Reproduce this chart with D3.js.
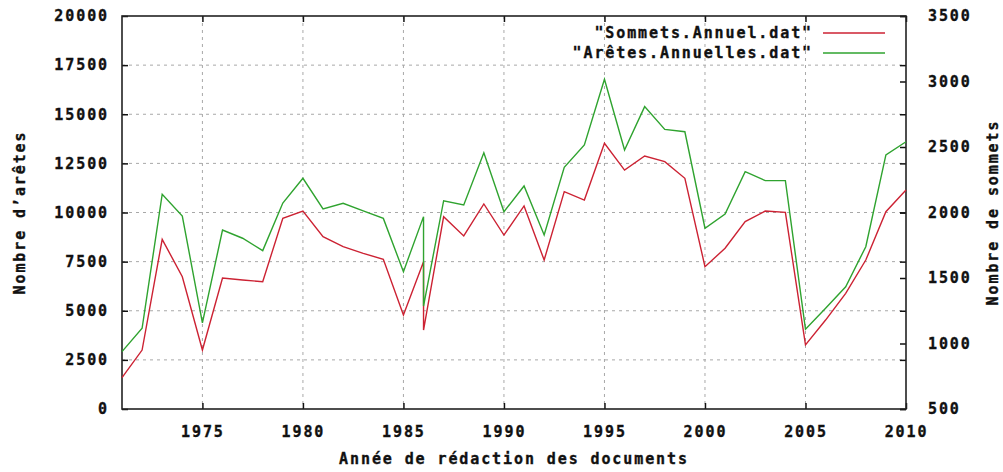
<!DOCTYPE html>
<html>
<head>
<meta charset="utf-8">
<script src="https://cdn.jsdelivr.net/npm/d3@7"></script>
<style>
  body { margin: 0; background: #fff; }
  text { font-family: 'DejaVu Sans Mono', monospace; font-weight: bold; font-size: 15px; letter-spacing: 1.9px; fill: #111; stroke: #111; stroke-width: 0.35px; }
</style>
</head>
<body>
<svg id="chart" width="1003" height="472"></svg>
<script>
// years (1986 appears twice in the data files)
const years = [1971, 1972, 1973, 1974, 1975, 1976, 1977, 1978, 1979, 1980,
	1981, 1982, 1983, 1984, 1985, 1986, 1986, 1987, 1988, 1989, 1990,
	1991, 1992, 1993, 1994, 1995, 1996, 1997, 1998, 1999, 2000,
	2001, 2002, 2003, 2004, 2005, 2006, 2007, 2008, 2009, 2010];

// "Aretes.Annuelles.dat" -> left axis
const aretes = [2920, 4110, 10930, 9820, 4380, 9110, 8690, 8060, 10480, 11740,
	10180, 10470, 10080, 9700, 6990, 9790, 5240, 10600, 10380, 13040, 10040,
	11350, 8860, 12300, 13440, 16780, 13180, 15390, 14230, 14110, 9200,
	9920, 12080, 11620, 11620, 4060, 5130, 6220, 8260, 12930, 13600];

// "Sommets.Annuel.dat" -> right axis
const sommets = [740, 950, 1795, 1510, 950, 1500, 1485, 1472, 1956, 2011,
	1815, 1739, 1688, 1643, 1218, 1624, 1103, 1968, 1821, 2065, 1828,
	2050, 1637, 2159, 2095, 2528, 2324, 2431, 2388, 2261, 1586,
	1727, 1930, 2011, 2001, 989, 1179, 1383, 1637, 2006, 2172];

const xTicks = [1975, 1980, 1985, 1990, 1995, 2000, 2005, 2010];
const yTicks = [0, 2500, 5000, 7500, 10000, 12500, 15000, 17500, 20000];
const y2Ticks = [500, 1000, 1500, 2000, 2500, 3000, 3500];

const legendLabels = ['"Sommets.Annuel.dat"', '"Arêtes.Annuelles.dat"'];
const colors = ['#cc2233', '#2fa32f'];

const margin = { top: 16, right: 97, bottom: 63, left: 122 };
const width = 1003 - margin.left - margin.right;
const height = 472 - margin.top - margin.bottom;

const svg = d3.select('#chart');
const g = svg.append('g').attr('transform', `translate(${margin.left},${margin.top})`);

const x = d3.scaleLinear().domain([1971, 2010]).range([0, width]);
const y = d3.scaleLinear().domain([0, 20000]).range([height, 0]);
const y2 = d3.scaleLinear().domain([500, 3500]).range([height, 0]);

// grid
const grid = g.append('g').attr('class', 'grid');
grid.selectAll('.vgrid')
	.data(xTicks.filter(d => d > 1971 && d < 2010))
	.enter().append('line')
	.attr('x1', d => x(d)).attr('x2', d => x(d))
	.attr('y1', 0).attr('y2', height)
	.attr('stroke', '#a8a8a8').attr('stroke-width', 1)
	.attr('stroke-dasharray', '3,4');
grid.selectAll('.hgrid')
	.data(yTicks.filter(d => d > 0 && d < 20000))
	.enter().append('line')
	.attr('x1', 0).attr('x2', width)
	.attr('y1', d => y(d)).attr('y2', d => y(d))
	.attr('stroke', '#a8a8a8').attr('stroke-width', 1)
	.attr('stroke-dasharray', '3,4');

// axes (ticks inward, gnuplot style)
function styleAxis(sel) {
	sel.select('.domain').remove();
	sel.selectAll('.tick line').attr('stroke', '#111').attr('stroke-width', 1.5);
}

const xAxis = g.append('g')
	.attr('transform', `translate(0,${height})`)
	.call(d3.axisBottom(x).tickValues(xTicks).tickFormat(d3.format('d')).tickSizeInner(-6).tickSizeOuter(0));
styleAxis(xAxis);
xAxis.selectAll('.tick text').attr('dy', '0.32em').attr('y', 23);

const xTop = g.append('g')
	.call(d3.axisTop(x).tickValues(xTicks).tickFormat('').tickSizeInner(-6).tickSizeOuter(0));
styleAxis(xTop);

const yAxis = g.append('g')
	.call(d3.axisLeft(y).tickValues(yTicks).tickFormat(d3.format('d')).tickSizeInner(-6).tickSizeOuter(0));
styleAxis(yAxis);
yAxis.selectAll('.tick text').attr('x', -13);

const yMirror = g.append('g')
	.attr('transform', `translate(${width},0)`)
	.call(d3.axisRight(y).tickValues(yTicks).tickFormat('').tickSizeInner(-6).tickSizeOuter(0));
styleAxis(yMirror);

const y2Axis = g.append('g')
	.attr('transform', `translate(${width},0)`)
	.call(d3.axisRight(y2).tickValues(y2Ticks).tickFormat(d3.format('d')).tickSizeInner(-6).tickSizeOuter(0));
styleAxis(y2Axis);
y2Axis.selectAll('.tick text').attr('x', 22);

g.selectAll('.tick text')
	.attr('fill', '#111')
	.attr('font-size', 15);

// border
g.append('rect')
	.attr('width', width).attr('height', height)
	.attr('fill', 'none').attr('stroke', '#222').attr('stroke-width', 1.6);

// lines
const lineLeft = d3.line()
	.x((d, i) => x(years[i]))
	.y(d => y(d));
const lineRight = d3.line()
	.x((d, i) => x(years[i]))
	.y(d => y2(d));

g.append('path')
	.datum(sommets)
	.attr('fill', 'none')
	.attr('stroke', colors[0])
	.attr('stroke-width', 1.4)
	.attr('d', lineRight);

g.append('path')
	.datum(aretes)
	.attr('fill', 'none')
	.attr('stroke', colors[1])
	.attr('stroke-width', 1.4)
	.attr('d', lineLeft);

// legend
const legend = g.append('g').attr('class', 'legend');
legendLabels.forEach((label, i) => {
	const ly = 17 + i * 20;
	legend.append('text')
		.attr('x', 691)
		.attr('y', ly)
		.attr('dy', '0.35em')
		.attr('text-anchor', 'end')
		.text(label);
	legend.append('line')
		.attr('x1', 701).attr('x2', 763)
		.attr('y1', ly).attr('y2', ly)
		.attr('stroke', colors[i])
		.attr('stroke-width', 1.4);
});

// axis titles
svg.append('text')
	.attr('transform', `translate(25,${margin.top + height / 2}) rotate(-90)`)
	.attr('text-anchor', 'middle')
	.text('Nombre d’arêtes');

svg.append('text')
	.attr('transform', `translate(998,${margin.top + height / 2}) rotate(-90)`)
	.attr('text-anchor', 'middle')
	.text('Nombre de sommets');

svg.append('text')
	.attr('x', margin.left + width / 2)
	.attr('y', 464)
	.attr('text-anchor', 'middle')
	.text('Année de rédaction des documents');
</script>
</body>
</html>
